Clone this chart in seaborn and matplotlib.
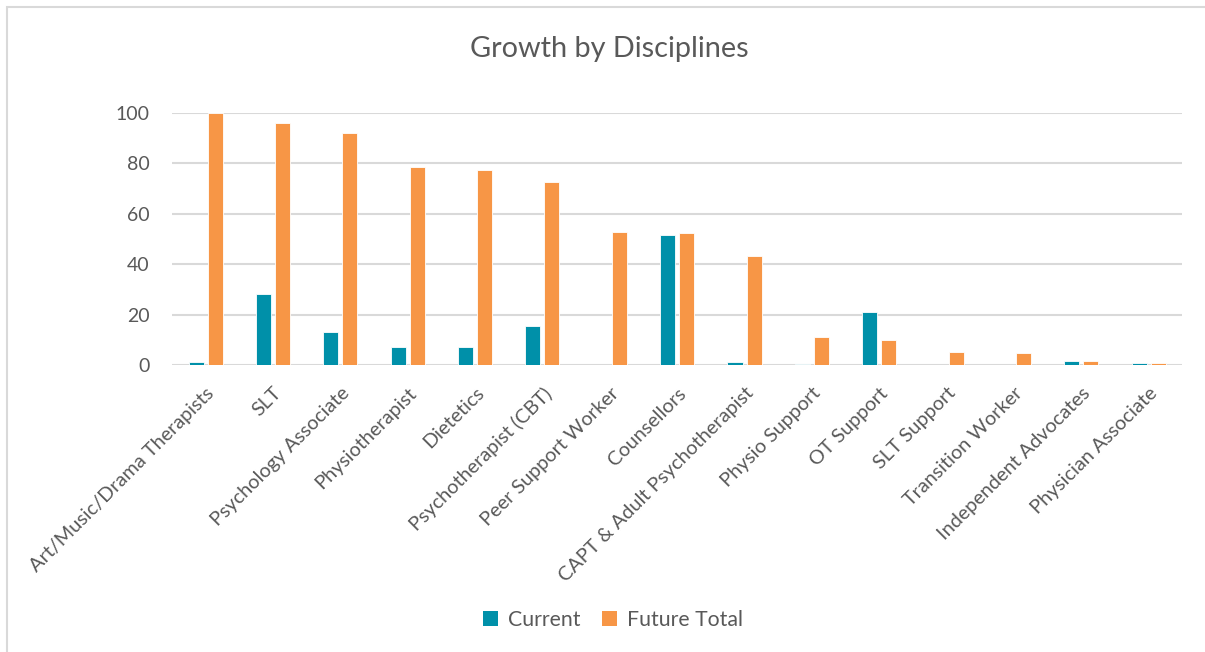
import matplotlib
matplotlib.use("Agg")
import matplotlib.pyplot as plt
from matplotlib.patches import Rectangle, Patch
import seaborn as sns
import pandas as pd

# Disciplines and staffing figures
disciplines = [
    "Art/Music/Drama Therapists", "SLT", "Psychology Associate", "Physiotherapist",
    "Dietetics", "Psychotherapist (CBT)", "Peer Support Worker", "Counsellors",
    "CAPT & Adult Psychotherapist", "Physio Support", "OT Support", "SLT Support",
    "Transition Worker", "Independent Advocates", "Physician Associate",
]
current = [1.3, 28.3, 13.1, 7.1, 7.1, 15.5, 0, 51.5, 1.3, 0.3, 21.0, 0, 0, 1.7, 0.7]
future_total = [100, 96, 92, 78.5, 77.3, 72.5, 52.6, 52.2, 43.2, 11.0, 9.9, 5.0, 4.8, 1.7, 0.7]
series = ["Current", "Future Total"]
colors = ["#0090A9", "#F79646"]
y_ticks = [0, 20, 40, 60, 80, 100]

df = pd.DataFrame({
    "Discipline": disciplines * 2,
    "Series": [series[0]] * len(disciplines) + [series[1]] * len(disciplines),
    "Value": current + future_total,
})

sns.set_theme(style="white")
plt.rcParams["font.family"] = ["Lato", "DejaVu Sans"]
text_color = "#595959"

fig = plt.figure(figsize=(12.05, 6.52), dpi=100)
ax = fig.add_axes([0.1427, 0.4402, 0.8385, 0.3865])

sns.barplot(
    data=df, x="Discipline", y="Value", hue="Series", order=disciplines,
    hue_order=series, palette=colors, width=0.565, gap=0.21,
    edgecolor="white", linewidth=0.6, saturation=1, legend=False, ax=ax,
)

ax.set_ylim(0, 100)
ax.set_xlim(-0.5, len(disciplines) - 0.5)
ax.set_yticks(y_ticks)
ax.set_yticklabels([str(t) for t in y_ticks], fontsize=14, color=text_color)
ax.yaxis.grid(True, color="#D9D9D9", linewidth=1.5)
ax.set_axisbelow(True)
ax.tick_params(axis="y", length=0, pad=16)
ax.tick_params(axis="x", length=0, pad=14)
ax.set_xticks(range(len(disciplines)))
ax.set_xticklabels(disciplines, rotation=45, ha="right", rotation_mode="anchor",
                   fontsize=14.3, color=text_color)
ax.set_xlabel("")
ax.set_ylabel("")
for s in ax.spines.values():
    s.set_visible(False)

fig.text(609 / 1205, 1 - 49 / 652, "Growth by Disciplines", ha="center", va="center",
         fontsize=20.8, color=text_color)

handles = [Patch(facecolor=c, edgecolor="none") for c in colors]
fig.legend(handles, series, loc="center", bbox_to_anchor=(613 / 1205, 1 - 620 / 652),
           ncol=2, frameon=False, fontsize=15.3, handlelength=0.7, handleheight=0.7,
           handletextpad=0.5, columnspacing=1.0, labelcolor=text_color)

# Chart frame
fig.patches.append(Rectangle((7 / 1205, -0.1), 1.2, 1 - 7 / 652 + 0.1,
                             transform=fig.transFigure, fill=False,
                             edgecolor="#D9D9D9", linewidth=1.5))

fig.savefig("out.png", dpi=100, facecolor="white")
